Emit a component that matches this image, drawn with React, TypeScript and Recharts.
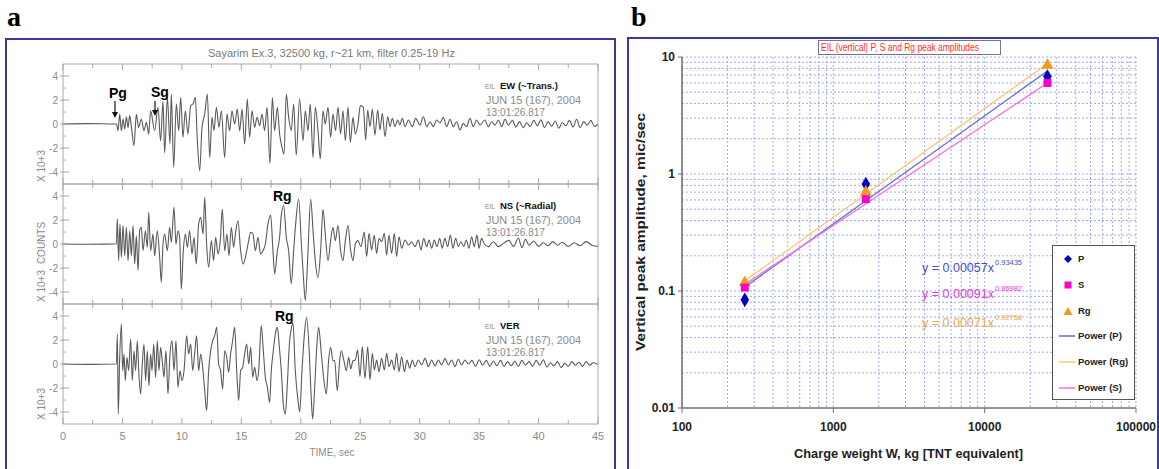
import React from "react";
import {
  LineChart,
  Line,
  XAxis,
  YAxis,
  ScatterChart,
  Scatter,
  ZAxis,
  CartesianGrid,
} from "recharts";

// ---------- panel a: seismograms (time s, counts x 10^3) ----------
const timeTicks = [0, 2.5, 5, 7.5, 10, 12.5, 15, 17.5, 20, 22.5, 25, 27.5, 30, 32.5, 35, 37.5, 40, 42.5, 45];
const countTicks = [-4, -3, -2, -1, 0, 1, 2, 3, 4];

const ewTrace: [number, number][] = [
  [0, 0], [2, 0.03], [4.45, 0],
  [4.5, 0], [4.63, -0.55], [4.77, 0.83], [4.91, -0.56], [5.05, 0.42], [5.19, -0.42], [5.33, 0.6], [5.47, -0.3],
  [5.61, 0.7], [5.75, -0.2], [5.97, -1.8], [6.17, 0.8], [6.36, -0.28], [6.59, 0.42], [6.81, -0.56], [7.01, 0.14],
  [7.21, -0.83], [7.37, 1.1], [7.71, -0.56], [7.99, 1.4], [8.21, -1.4], [8.41, 1.9], [8.55, -2.4], [8.78, 2.2],
  [9.0, -1.67], [9.11, 2.5], [9.31, -3.6], [9.53, 1.67], [9.73, -0.56], [9.9, 2.2], [10.09, -1.11], [10.29, 1.11],
  [10.51, -0.83], [10.74, 1.53], [10.93, 1.67], [11.13, 2.22], [11.3, -1.39], [11.5, -3.9], [11.69, -0.28],
  [11.92, 0.83], [12.14, 2.5], [12.34, -2.8], [12.53, 0.56], [12.7, -0.56], [12.9, 1.39], [13.12, -0.28],
  [13.32, 1.11], [13.6, -2.8], [13.79, 0.83], [14.02, -0.56], [14.21, 1.11], [14.44, 0], [14.66, 1.25],
  [14.86, -0.56], [15.06, 1.25], [15.28, -1.67], [15.5, 2.08], [15.7, -1.11], [15.9, 1.11], [16.12, -0.28],
  [16.32, 0.56], [16.54, -0.14], [16.74, 0.83], [16.96, -0.56], [17.16, 1.39], [17.41, -3.3], [17.61, 2.2],
  [17.8, -0.56], [18.03, 1.39], [18.22, -0.83], [18.36, -1.67], [18.59, -2.5], [18.78, 2.5], [18.98, 0.56],
  [19.2, -0.56], [19.4, 1.67], [19.62, -2.6], [19.9, 2.1], [20.19, -1.39], [20.38, 1.11], [20.61, -0.56],
  [20.8, 1.67], [21.03, -2.8], [21.22, 1.39], [21.45, -0.56], [21.64, -2.9], [21.87, 1.11], [22.06, 0],
  [22.29, 1.39], [22.51, -1.11], [22.71, 0.83], [22.93, -0.56], [23.13, 1.39], [23.35, -0.83], [23.55, 1.11],
  [23.75, -1.39], [23.97, 1.39], [24.17, -1.53], [24.39, 0.56], [24.59, -0.83], [24.81, 0], [25.01, 1.53],
  [25.26, 1.4], [25.46, -1.33], [25.63, 1.17], [25.82, -0.22], [26.02, 1.22], [26.24, -0.92], [26.47, 1.17],
  [26.66, -0.5], [26.86, 0.89], [27.08, -1.06], [27.31, 0.61], [27.5, -0.22], [27.7, 0.47], [27.92, -0.22],
  [28.15, 0.33], [28.34, -0.08], [28.54, 0.47], [28.77, -0.22], [29.05, 0.33], [29.38, -0.22], [29.66, 0.47],
  [30.03, -0.08], [30.31, 0.61], [30.59, -0.22], [30.87, 0.19], [31.15, -0.22], [31.43, 0.33], [31.71, 0.08],
  [31.99, 0.55], [32.27, -0.22], [32.55, 0.39], [32.83, -0.22], [33.11, 0.19], [33.39, -0.5], [33.67, 0.05],
  [33.95, -0.22], [34.23, 0.47], [34.51, -0.22], [34.79, 0.33], [35.07, -0.08], [35.49, 0.33], [35.77, -0.22],
  [36.05, 0.19], [36.33, -0.1], [36.62, 0.33], [36.9, -0.22], [37.18, 0.39], [37.46, -0.1], [37.8, 0.3],
  [38.1, -0.25], [38.4, 0.2], [38.7, -0.3], [39.0, 0.1], [39.3, -0.2], [39.6, 0.3], [39.9, -0.15], [40.2, 0.35],
  [40.5, -0.3], [40.8, 0.2], [41.1, -0.2], [41.4, 0.25], [41.7, -0.35], [42.0, 0.1], [42.3, -0.15], [42.6, 0.3],
  [42.9, -0.25], [43.2, 0.4], [43.5, -0.3], [43.8, 0.2], [44.1, -0.1], [44.4, 0.3], [44.7, -0.2], [45, 0],
];

const nsTrace: [number, number][] = [
  [0, 0], [2, -0.02], [4.45, 0],
  [4.49, 0], [4.57, 2.1], [4.68, -1.39], [4.79, 1.67], [4.91, -1.11], [5.05, 1.53], [5.19, -0.97], [5.33, 1.39],
  [5.47, -1.39], [5.61, 1.11], [5.75, -0.97], [5.89, 1.53], [6.03, -1.67], [6.17, 0.69], [6.31, -2.2], [6.45, 1.11],
  [6.59, 1.39], [6.73, -0.56], [6.93, 1.11], [7.09, -0.28], [7.21, 2.64], [7.37, -0.56], [7.57, 0.83], [7.71, -0.97],
  [7.93, 1.11], [8.13, -1.11], [8.27, -3.2], [8.41, 0], [8.55, 0.83], [8.78, -0.56], [8.97, 1.39], [9.11, 0.14],
  [9.34, 3.05], [9.5, 0], [9.67, 1.11], [9.81, 0.56], [9.95, -3.75], [10.12, -0.56], [10.29, 0.83], [10.46, -0.28],
  [10.65, 1.11], [10.85, -0.83], [11.02, 0.56], [11.21, -1.67], [11.41, 1.67], [11.58, 2.22], [11.78, 0.83],
  [11.92, 3.9], [12.08, 0], [12.25, -1.94], [12.48, 0.28], [12.67, -1.39], [12.84, 0.56], [13.04, -0.83],
  [13.23, 0.28], [13.4, 2.9], [13.6, -0.56], [13.79, 0.83], [13.96, -0.97], [14.16, 1.39], [14.35, -0.28],
  [14.52, 0.97], [14.72, 1.94], [14.94, -0.56], [15.14, -1.67], [15.34, -1.11], [15.56, 0], [15.78, 0.97],
  [15.98, 0.83], [16.18, -0.56], [16.4, 0.56], [16.62, -0.83], [16.82, -0.56], [17.02, 0], [17.24, 1.67],
  [17.47, 2.4], [17.66, -0.56], [17.8, -2.5], [18.03, -0.56], [18.22, 0.56], [18.36, 2.36], [18.56, 3.2],
  [18.78, 0.56], [18.98, -0.56], [19.2, -3.3], [19.4, -0.56], [19.57, 1.67], [19.82, 3.75], [20.05, 0],
  [20.24, -3.05], [20.38, -4.7], [20.61, -0.56], [20.83, 3.75], [21.05, 0.83], [21.22, -1.39], [21.45, -2.8],
  [21.67, -0.56], [21.87, 2.9], [22.06, 0.83], [22.29, -1.39], [22.51, 0.28], [22.71, 1.39], [22.9, 0.28],
  [23.13, 1.53], [23.35, -0.56], [23.55, -1.39], [23.75, 0.28], [23.97, 1.53], [24.2, -0.56], [24.39, -1.39],
  [24.59, 0], [24.81, 0.28], [25.06, -0.22], [25.34, 1.0], [25.54, -1.05], [25.74, 0.89], [25.96, -0.5],
  [26.18, 0.75], [26.38, -0.78], [26.58, 0.47], [26.8, 0.19], [27.03, 0.89], [27.22, -0.92], [27.42, 0.75],
  [27.64, -0.78], [27.87, 0.89], [28.06, -1.05], [28.26, 0.61], [28.49, -0.36], [28.77, 0.33], [29.05, -0.08],
  [29.33, 0.19], [29.61, -0.22], [29.89, 0.33], [30.11, -0.5], [30.34, 0.47], [30.59, -0.22], [30.79, 0.33],
  [31.01, -0.36], [31.23, 0.33], [31.46, -0.22], [31.68, 0.47], [31.9, -0.36], [32.12, 0.47], [32.35, -0.22],
  [32.58, 0.75], [32.8, -0.36], [33.03, 0.47], [33.25, -0.22], [33.48, 0.19], [33.7, -0.22], [33.92, 0.33],
  [34.15, -0.36], [34.37, 0.61], [34.59, -0.22], [34.82, 0.75], [34.99, -0.36], [35.21, 0.47], [35.44, 0],
  [35.78, -0.22], [36.2, 0.19], [36.62, -0.22], [37.04, 0.05], [37.5, 0.3], [37.9, -0.2], [38.3, 0.5],
  [38.6, -0.3], [38.9, 0.4], [39.2, -0.1], [39.6, 0.25], [40.0, -0.2], [40.4, 0.1], [40.8, -0.15], [41.2, 0.2],
  [41.6, -0.1], [42.0, 0.15], [42.5, -0.2], [43.0, 0.1], [43.5, -0.15], [44.0, 0.2], [44.5, -0.1], [45, -0.2],
];

const verTrace: [number, number][] = [
  [0, 0], [2, -0.03], [4.45, 0],
  [4.49, 0], [4.57, 2.5], [4.65, -4.17], [4.77, 0.56], [4.91, 3.33], [5.02, -0.56], [5.13, 0.83], [5.24, -1.39],
  [5.38, 0.56], [5.52, -0.56], [5.69, 2.08], [5.83, -1.39], [5.97, 1.11], [6.11, -0.56], [6.25, 1.94], [6.39, -0.97],
  [6.53, -2.5], [6.67, 0], [6.81, 1.67], [6.95, -1.39], [7.09, 1.11], [7.23, -1.81], [7.37, 0.83], [7.49, -0.56],
  [7.63, 1.67], [7.79, -1.11], [7.93, 1.94], [8.07, -0.56], [8.21, 1.39], [8.35, 0.28], [8.49, -1.11], [8.66, 1.11],
  [8.83, -2.5], [9.0, 0.83], [9.17, 1.94], [9.34, -0.56], [9.5, 1.94], [9.67, -1.94], [9.84, -0.56], [10.01, -1.39],
  [10.18, -0.56], [10.4, 2.36], [10.57, 0.83], [10.74, 1.67], [10.91, -0.56], [11.07, 0.83], [11.24, 2.36],
  [11.41, -0.56], [11.58, 0.83], [11.75, -0.28], [11.92, -2.22], [12.08, -3.9], [12.25, -0.56], [12.42, 1.11],
  [12.59, 1.94], [12.76, 2.36], [12.93, 3.05], [13.09, 0], [13.26, -0.56], [13.43, -2.08], [13.6, 1.11],
  [13.77, 0.56], [13.93, -0.69], [14.1, 0.83], [14.27, 1.94], [14.44, 3.05], [14.61, -0.56], [14.78, -3.05],
  [14.94, -0.56], [15.11, -0.28], [15.28, 0.83], [15.45, 1.67], [15.62, 0], [15.79, 1.39], [15.95, -1.11],
  [16.12, -0.28], [16.32, -1.39], [16.46, -0.56], [16.68, 3.2], [16.85, 1.11], [17.02, -1.11], [17.19, -1.94],
  [17.38, -3.2], [17.52, -0.56], [17.69, 1.11], [17.86, 2.5], [18.03, 3.05], [18.2, 1.39], [18.36, -0.56],
  [18.53, -3.33], [18.7, -4.17], [18.87, -1.67], [19.04, 1.67], [19.2, 2.92], [19.34, 3.47], [19.54, -0.56],
  [19.77, -3.05], [19.91, -4.0], [20.1, -0.56], [20.33, 2.78], [20.49, 3.9], [20.72, 0.83], [20.89, -3.05],
  [21.0, -4.58], [21.17, -1.94], [21.36, 1.67], [21.5, 3.05], [21.73, 0.83], [21.95, -1.39], [22.15, -2.5],
  [22.34, 0.28], [22.51, 1.39], [22.71, 0.28], [22.85, 0.28], [23.07, -2.22], [23.27, 0.28], [23.41, 1.11],
  [23.63, 0.28], [23.83, -0.56], [24.03, 0.56], [24.2, -0.42], [24.39, 0.28], [24.59, 0.33], [24.78, 1.17],
  [24.98, -1.05], [25.18, 1.44], [25.4, -1.19], [25.63, 1.44], [25.82, -1.33], [26.02, 0.89], [26.19, -0.5],
  [26.38, 0.33], [26.58, -0.64], [26.8, 0.47], [27.03, -0.5], [27.22, 0.89], [27.42, -0.22], [27.64, 0.33],
  [27.87, -0.5], [28.06, 0.89], [28.26, -0.64], [28.49, 0.61], [28.71, -0.64], [28.94, 0.33], [29.16, -0.36],
  [29.38, 0.33], [29.61, -0.22], [29.89, 0.33], [30.17, -0.08], [30.45, 0.47], [30.73, -0.22], [31.01, 0.33],
  [31.29, -0.17], [31.57, 0.33], [31.85, -0.08], [32.13, 0.47], [32.41, -0.08], [32.69, 0.33], [32.97, -0.22],
  [33.25, 0.39], [33.53, -0.08], [33.81, 0.33], [34.09, 0], [34.4, 0.3], [34.7, -0.2], [35.0, 0.35], [35.3, -0.1],
  [35.6, 0.3], [35.9, -0.2], [36.2, 0.25], [36.5, -0.15], [36.8, 0.3], [37.1, -0.2], [37.4, 0.2], [37.7, -0.15],
  [38.0, 0.25], [38.3, -0.2], [38.6, 0.3], [38.9, -0.1], [39.2, 0.2], [39.5, -0.2], [39.8, 0.3], [40.1, -0.1],
  [40.4, 0.35], [40.7, -0.25], [41.0, 0.1], [41.3, -0.15], [41.6, 0.2], [41.9, -0.3], [42.2, 0.05], [42.5, -0.2],
  [42.8, 0.2], [43.1, -0.1], [43.4, 0.15], [43.7, -0.2], [44.0, 0.2], [44.3, -0.1], [44.6, 0.1], [45, -0.05],
];

// ---------- panel b: peak amplitude vs charge ----------
const charges = [260, 1640, 26000];
const pPeak = [0.084, 0.82, 6.8];
const sPeak = [0.107, 0.61, 6.0];
const rgPeak = [0.118, 0.7, 8.5];
const fitEnds = [260, 26000];
const pFit = [0.108, 7.6];
const rgFit = [0.122, 8.8];
const sFit = [0.114, 6.0];
const weightTicks = [100, 1000, 10000, 100000];
const ampTicks = [0.01, 0.1, 1, 10];
const weightGrid = [100, 200, 300, 400, 500, 600, 700, 800, 900, 1000, 2000, 3000, 4000, 5000, 6000, 7000, 8000, 9000,
  10000, 20000, 30000, 40000, 50000, 60000, 70000, 80000, 90000, 100000];
const ampGrid = [0.02, 0.03, 0.04, 0.05, 0.06, 0.07, 0.08, 0.09, 0.1, 0.2, 0.3, 0.4, 0.5, 0.6, 0.7, 0.8, 0.9, 1,
  2, 3, 4, 5, 6, 7, 8, 9, 10];

const SANS = "'Liberation Sans', Arial, sans-serif";
const AXIS_GRAY = "#a8a8a8";
const LABEL_GRAY = "#8a8a8a";
const FRAME = "#3a3a9e";

function leftTick(p: any) {
  const v = p.payload.value;
  const major = v % 2 === 0;
  return (
    <g>
      <line x1={p.x - (major ? 3 : 0)} x2={p.x + (major ? 6 : 3)} y1={p.y} y2={p.y} stroke={AXIS_GRAY} />
      {major && (
        <text x={p.x - 5} y={p.y + 3.5} textAnchor="end" fontSize={10} fill={LABEL_GRAY} fontFamily={SANS}>
          {v}
        </text>
      )}
    </g>
  );
}

function rightTick(p: any) {
  const major = p.payload.value % 2 === 0;
  return <line x1={p.x - (major ? 7 : 3)} x2={p.x} y1={p.y} y2={p.y} stroke={AXIS_GRAY} />;
}

function topTick(p: any) {
  const major = p.payload.value % 5 === 0;
  return <line x1={p.x} x2={p.x} y1={p.y} y2={p.y + (major ? 6 : 4)} stroke={AXIS_GRAY} />;
}

function bottomTick(withLabel: boolean) {
  return (p: any) => {
    const v = p.payload.value;
    const major = v % 5 === 0;
    return (
      <g>
        <line x1={p.x} x2={p.x} y1={p.y} y2={p.y - (major ? 6 : 4)} stroke={AXIS_GRAY} />
        {withLabel && major && (
          <text x={p.x} y={p.y + 16} textAnchor="middle" fontSize={11} fill={LABEL_GRAY} fontFamily={SANS}>
            {v}
          </text>
        )}
      </g>
    );
  };
}

function Trace({ trace, top, showTime }: { trace: [number, number][]; top: number; showTime: boolean }) {
  const data = trace.map(([t, v]) => ({ t, v }));
  const bottomH = showTime ? 22 : 4;
  return (
    <div style={{ position: "absolute", left: 23, top: top - 4 }}>
      <LineChart width={595} height={124 + bottomH} data={data} margin={{ top: 0, right: 0, bottom: 0, left: 0 }}>
        <XAxis xAxisId="b" dataKey="t" type="number" domain={[0, 45]} ticks={timeTicks} interval={0}
          height={bottomH} tickSize={0} tickMargin={0} axisLine={{ stroke: AXIS_GRAY }} tick={bottomTick(showTime)} />
        <XAxis xAxisId="t" orientation="top" dataKey="t" type="number" domain={[0, 45]} ticks={timeTicks} interval={0}
          height={4} tickSize={0} tickMargin={0} axisLine={{ stroke: AXIS_GRAY }} tick={topTick} />
        <YAxis yAxisId="l" type="number" domain={[-5, 5]} ticks={countTicks} interval={0} width={40}
          tickSize={0} tickMargin={0} axisLine={{ stroke: AXIS_GRAY }} tick={leftTick} />
        <YAxis yAxisId="r" orientation="right" type="number" domain={[-5, 5]} ticks={countTicks} interval={0} width={20}
          tickSize={0} tickMargin={0} axisLine={{ stroke: AXIS_GRAY }} tick={rightTick} />
        <Line xAxisId="b" yAxisId="l" dataKey="v" type="monotone" stroke="#5a5a5a" strokeWidth={1.1}
          dot={false} isAnimationActive={false} />
      </LineChart>
    </div>
  );
}

const traceLabels = [
  { name: "EW (~Trans.)", off: 0 },
  { name: "NS (~Radial)", off: 120 },
  { name: "VER", off: 240 },
];

const legendRows = [
  { label: "P", kind: "diamond", color: "#0000c8" },
  { label: "S", kind: "square", color: "#ff00cc" },
  { label: "Rg", kind: "triangle", color: "#f39a1e" },
  { label: "Power (P)", kind: "line", color: "#6a6ad2" },
  { label: "Power (Rg)", kind: "line", color: "#f8c878" },
  { label: "Power (S)", kind: "line", color: "#f070e8" },
];

const equations = [
  { main: "y = 0.00057x", exp: "0.93435", color: "#4b4bc8", y: 272 },
  { main: "y = 0.00091x", exp: "0.86982", color: "#e040e0", y: 298 },
  { main: "y = 0.00071x", exp: "0.92758", color: "#e8a848", y: 327 },
];

function noDot() {
  return <g />;
}

export default function App() {
  const pts = (ys: number[]) => charges.map((x, i) => ({ x, y: ys[i] }));
  const fit = (ys: number[]) => fitEnds.map((x, i) => ({ x, y: ys[i] }));

  return (
    <div style={{ position: "absolute", left: 0, top: 0, width: 1159, height: 469, background: "#fff", overflow: "hidden" }}>
      {/* frames */}
      <div style={{ position: "absolute", left: 5, top: 38, width: 607, height: 450, border: `2px solid ${FRAME}` }} />
      <div style={{ position: "absolute", left: 627, top: 37, width: 528, height: 450, border: `2px solid ${FRAME}` }} />

      <Trace trace={ewTrace} top={64} showTime={false} />
      <Trace trace={nsTrace} top={184} showTime={false} />
      <Trace trace={verTrace} top={304} showTime={true} />

      <div style={{ position: "absolute", left: 625, top: 36 }}>
        <ScatterChart width={534} height={433} margin={{ top: 21, right: 23, bottom: 0, left: 0 }}>
          <CartesianGrid stroke="#9fa9f2" strokeDasharray="2 2" horizontalValues={ampGrid} verticalValues={weightGrid} />
          <XAxis type="number" dataKey="x" scale="log" domain={[100, 100000]} allowDataOverflow ticks={weightTicks}
            interval={0} height={61} tickSize={5} tickMargin={9} axisLine={{ stroke: "#707070", strokeWidth: 1.5 }}
            tickLine={{ stroke: "#707070" }} tick={{ fontSize: 12, fontWeight: "bold", fill: "#222", fontFamily: SANS }} />
          <YAxis type="number" dataKey="y" scale="log" domain={[0.01, 10]} allowDataOverflow ticks={ampTicks}
            interval={0} width={57} tickSize={4} tickMargin={3} axisLine={{ stroke: "#707070", strokeWidth: 1.5 }}
            tickLine={{ stroke: "#707070" }} tick={{ fontSize: 12, fontWeight: "bold", fill: "#222", fontFamily: SANS }} />
          <ZAxis range={[50, 50]} />
          <Scatter data={fit(pFit)} line={{ stroke: "#6a6ad2", strokeWidth: 1.3 }} shape={noDot} isAnimationActive={false} />
          <Scatter data={fit(rgFit)} line={{ stroke: "#f8c878", strokeWidth: 1.3 }} shape={noDot} isAnimationActive={false} />
          <Scatter data={fit(sFit)} line={{ stroke: "#f070e8", strokeWidth: 1.3 }} shape={noDot} isAnimationActive={false} />
          <Scatter data={pts(pPeak)} fill="#0000c8" shape="diamond" isAnimationActive={false} />
          <Scatter data={pts(rgPeak)} fill="#f39a1e" shape="triangle" isAnimationActive={false} />
          <Scatter data={pts(sPeak)} fill="#ff00cc" shape="square" isAnimationActive={false} />
        </ScatterChart>
      </div>

      {/* legend of panel b */}
      <div style={{ position: "absolute", left: 1052, top: 245, width: 81, height: 153, border: "1px solid #555", background: "#fff" }}>
        {legendRows.map((r, i) => {
          const cy = 13 + i * 25.8;
          return (
            <div key={r.label} style={{ position: "absolute", left: 0, top: cy - 7, height: 14, width: 81 }}>
              <svg width={24} height={14} style={{ position: "absolute", left: 4, top: 0 }}>
                {r.kind === "diamond" && <polygon points="11,3 15,7 11,11 7,7" fill={r.color} />}
                {r.kind === "square" && <rect x={7.5} y={3.5} width={7} height={7} fill={r.color} />}
                {r.kind === "triangle" && <polygon points="11,3 15.5,11 6.5,11" fill={r.color} />}
                {r.kind === "line" && <line x1={2} x2={18} y1={7} y2={7} stroke={r.color} strokeWidth={1.5} />}
              </svg>
              <span style={{ position: "absolute", left: 25, top: 0, lineHeight: "14px", fontSize: 9.5, fontWeight: "bold",
                fontFamily: SANS, color: "#222", whiteSpace: "nowrap" }}>
                {r.label}
              </span>
            </div>
          );
        })}
      </div>

      {/* text overlay */}
      <svg width={1159} height={469} style={{ position: "absolute", left: 0, top: 0, pointerEvents: "none" }}>
        <text x={7} y={26} fontSize={28} fontWeight="bold" fontFamily="'Liberation Serif', 'Times New Roman', serif">a</text>
        <text x={631} y={26} fontSize={28} fontWeight="bold" fontFamily="'Liberation Serif', 'Times New Roman', serif">b</text>

        <text x={208} y={57} fontSize={10} fill="#7a7a7a" fontFamily={SANS} textLength={247} lengthAdjust="spacingAndGlyphs">
          Sayarim Ex.3, 32500 kg, r~21 km, filter 0.25-19 Hz
        </text>

        <text x={109} y={98} fontSize={14} fontWeight="bold" fontFamily={SANS}>Pg</text>
        <line x1={115} y1={101} x2={115} y2={113} stroke="#111" strokeWidth={1.2} />
        <polygon points="112,112 118,112 115,118" fill="#111" />
        <text x={151} y={97} fontSize={14} fontWeight="bold" fontFamily={SANS}>Sg</text>
        <line x1={155} y1={101} x2={155} y2={111} stroke="#111" strokeWidth={1.2} />
        <polygon points="152,110 158,110 155,116" fill="#111" />
        <text x={273} y={201} fontSize={14} fontWeight="bold" fontFamily={SANS}>Rg</text>
        <text x={275} y={321} fontSize={14} fontWeight="bold" fontFamily={SANS}>Rg</text>

        {traceLabels.map((l) => (
          <g key={l.name} fontFamily={SANS}>
            <text x={485} y={89 + l.off} fontSize={8} fill={LABEL_GRAY} textLength={10} lengthAdjust="spacingAndGlyphs">EIL</text>
            <text x={500} y={89 + l.off} fontSize={9.5} fontWeight="bold" fill="#111">{l.name}</text>
            <text x={486} y={104 + l.off} fontSize={11} fill={LABEL_GRAY} textLength={95} lengthAdjust="spacingAndGlyphs">
              JUN 15 (167), 2004
            </text>
            <text x={486} y={116 + l.off} fontSize={11} fill={LABEL_GRAY} textLength={59} lengthAdjust="spacingAndGlyphs">
              13:01:26.817
            </text>
          </g>
        ))}

        {[166, 286, 404].map((cy) => (
          <text key={cy} x={0} y={0} transform={`translate(45 ${cy}) rotate(-90)`} textAnchor="middle" fontSize={10}
            fill={LABEL_GRAY} fontFamily={SANS}>
            X 10+3
          </text>
        ))}
        <text x={0} y={0} transform="translate(45 243) rotate(-90)" textAnchor="middle" fontSize={10} fill={LABEL_GRAY}
          fontFamily={SANS}>
          COUNTS
        </text>
        <text x={332} y={456} textAnchor="middle" fontSize={10} fill={LABEL_GRAY} fontFamily={SANS}>TIME, sec</text>

        {/* panel b texts */}
        <rect x={818.5} y={40.5} width={182} height={14} fill="#fff" stroke="#777" />
        <text x={821} y={51} fontSize={10.5} fill="#ff2a2a" fontFamily={SANS} textLength={158} lengthAdjust="spacingAndGlyphs">
          EIL (vertical) P, S and Rg peak amplitudes
        </text>
        <text x={0} y={0} transform="translate(645 232) rotate(-90)" textAnchor="middle" fontSize={13} fontWeight="bold"
          fill="#222" fontFamily={SANS} textLength={238} lengthAdjust="spacingAndGlyphs">
          Vertical peak amplitude, mic/sec
        </text>
        <text x={794} y={458} fontSize={13} fontWeight="bold" fill="#222" fontFamily={SANS} textLength={229}
          lengthAdjust="spacingAndGlyphs">
          Charge weight W, kg [TNT equivalent]
        </text>
        {equations.map((e) => (
          <g key={e.main} fontFamily={SANS} fill={e.color}>
            <text x={922} y={e.y} fontSize={13} textLength={72} lengthAdjust="spacingAndGlyphs">{e.main}</text>
            <text x={995} y={e.y - 7} fontSize={7.5} textLength={27} lengthAdjust="spacingAndGlyphs">{e.exp}</text>
          </g>
        ))}
      </svg>
    </div>
  );
}
